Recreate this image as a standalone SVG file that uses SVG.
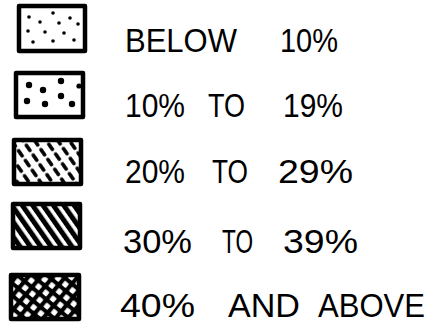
<svg xmlns="http://www.w3.org/2000/svg" width="434" height="328" viewBox="0 0 434 328">
<style>
.box{stroke:#000;stroke-width:4.5;stroke-linejoin:round}
.t{font-family:"Liberation Sans",Arial,sans-serif;font-size:34px;fill:#000;font-weight:normal}
</style>
<defs>
<pattern id="dash" width="9.5" height="12" patternUnits="userSpaceOnUse" patternTransform="rotate(-35)">
<line x1="4.75" y1="2" x2="4.75" y2="8.5" stroke="#000" stroke-width="3.6" stroke-linecap="round"/>
</pattern>
<pattern id="stripe" width="8.5" height="8.5" patternUnits="userSpaceOnUse" patternTransform="rotate(-35)">
<rect x="0" y="0" width="5" height="8.5" fill="#000"/>
</pattern>
<pattern id="cross" width="9.5" height="9.5" patternUnits="userSpaceOnUse" patternTransform="rotate(40)">
<rect width="9.5" height="9.5" fill="#000"/>
<rect x="2.2" y="2.2" width="5.3" height="5.3" rx="0.8" fill="#fff"/>
</pattern>
</defs>
<rect width="434" height="328" fill="#fff"/>
<g id="n1">
<rect class="box" x="19" y="6" width="66" height="45" fill="#fff"/>
<g fill="#000">
<circle cx="29" cy="17" r="1.8"/><circle cx="53" cy="13" r="1.8"/><circle cx="40" cy="22" r="1.8"/><circle cx="59" cy="23" r="1.8"/><circle cx="70" cy="18" r="1.8"/><circle cx="78" cy="24" r="1.8"/><circle cx="28" cy="31" r="1.8"/><circle cx="45" cy="32" r="1.8"/><circle cx="64" cy="33" r="1.8"/><circle cx="33" cy="42" r="1.8"/><circle cx="53" cy="41" r="1.8"/><circle cx="74" cy="40" r="1.8"/>
</g>
<text class="t" x="125" y="52" textLength="112" lengthAdjust="spacingAndGlyphs">BELOW</text>
<text class="t" x="280" y="52" textLength="58" lengthAdjust="spacingAndGlyphs">10%</text>
</g>
<g id="n2">
<rect class="box" x="16" y="73" width="67" height="44" fill="#fff"/>
<g fill="#000">
<circle cx="29" cy="85" r="3.2"/><circle cx="43" cy="90" r="3.2"/><circle cx="61" cy="81" r="3.2"/><circle cx="79" cy="86" r="2.6"/><circle cx="27" cy="101" r="3.2"/><circle cx="45" cy="104" r="3.2"/><circle cx="61" cy="96" r="3.2"/><circle cx="72" cy="104" r="3.2"/>
</g>
<text class="t" x="125" y="117" textLength="60" lengthAdjust="spacingAndGlyphs">10%</text>
<text class="t" x="208" y="117" textLength="37" lengthAdjust="spacingAndGlyphs">TO</text>
<text class="t" x="283" y="117" textLength="60" lengthAdjust="spacingAndGlyphs">19%</text>
</g>
<g id="n3">
<rect class="box" x="14" y="140" width="67" height="44" fill="url(#dash)"/>
<text class="t" x="125" y="183" textLength="60" lengthAdjust="spacingAndGlyphs">20%</text>
<text class="t" x="212" y="183" textLength="36" lengthAdjust="spacingAndGlyphs">TO</text>
<text class="t" x="278" y="183" textLength="75" lengthAdjust="spacingAndGlyphs">29%</text>
</g>
<g id="n4">
<rect class="box" x="13" y="204" width="67" height="44" fill="url(#stripe)"/>
<text class="t" x="123" y="253" textLength="69" lengthAdjust="spacingAndGlyphs">30%</text>
<text class="t" x="222" y="253" textLength="31" lengthAdjust="spacingAndGlyphs">TO</text>
<text class="t" x="283" y="253" textLength="75" lengthAdjust="spacingAndGlyphs">39%</text>
</g>
<g id="n5">
<rect class="box" x="11" y="275" width="68" height="44" fill="url(#cross)"/>
<text class="t" x="120" y="317" textLength="75" lengthAdjust="spacingAndGlyphs">40%</text>
<text class="t" x="228" y="317" textLength="72" lengthAdjust="spacingAndGlyphs">AND</text>
<text class="t" x="318" y="317" textLength="107" lengthAdjust="spacingAndGlyphs">ABOVE</text>
</g>
<g id="connectors"></g>
</svg>
